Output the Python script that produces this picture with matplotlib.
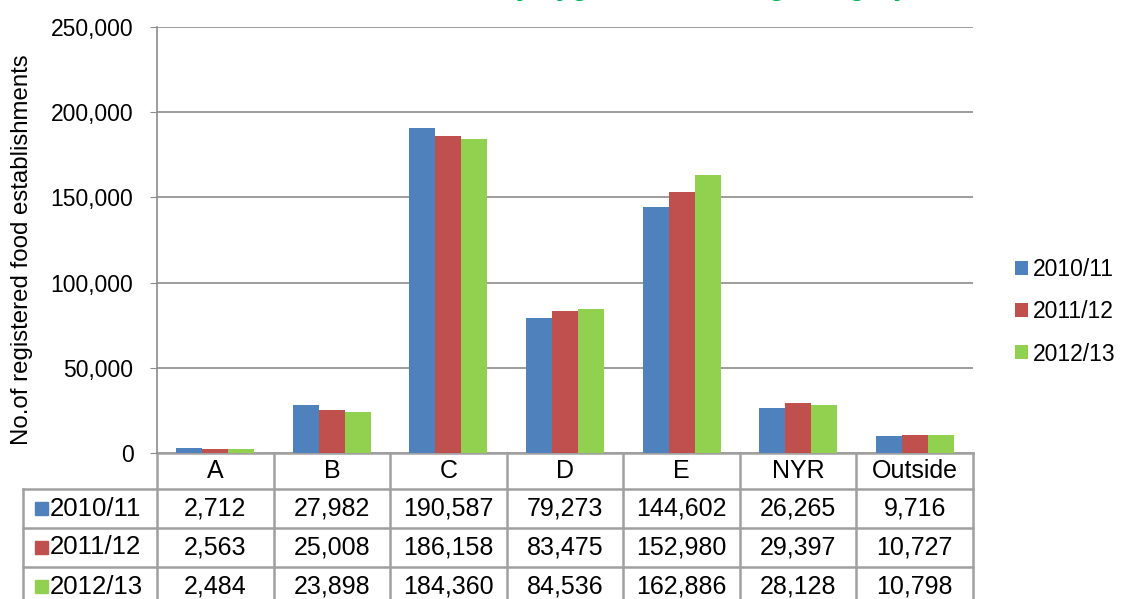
import numpy as np
import matplotlib.pyplot as plt
from matplotlib.patches import Rectangle

plt.rcParams['font.family'] = ['Liberation Sans', 'DejaVu Sans']

categorias = ['A', 'B', 'C', 'D', 'E', 'NYR', 'Outside']
anos = ['2010/11', '2011/12', '2012/13']
v2010 = [2712, 27982, 190587, 79273, 144602, 26265, 9716]
v2011 = [2563, 25008, 186158, 83475, 152980, 29397, 10727]
v2012 = [2484, 23898, 184360, 84536, 162886, 28128, 10798]
yticks = [0, 50000, 100000, 150000, 200000, 250000]
titulo = 'Food establishments by hygiene risk rating category'
ylabel = 'No.of registered food establishments'

series = [v2010, v2011, v2012]
cores = ['#4F81BD', '#C0504D', '#92D050']
cinza = '#A0A0A0'

W, H = 1122, 599
fig = plt.figure(figsize=(W / 100, H / 100), dpi=100)
esq, dir_, topo, base = 157, 973, 27, 453
ax = fig.add_axes([esq / W, 1 - base / H, (dir_ - esq) / W, (base - topo) / H])
pw = dir_ - esq
ph = base - topo

# barras
x = np.arange(len(categorias))
larg = 0.223
for i, (vals, cor, ano) in enumerate(zip(series, cores, anos)):
    ax.bar(x + (i - 1) * larg, vals, larg, color=cor, label=ano, zorder=3)

ax.set_xlim(-0.5, len(categorias) - 0.5)
ax.set_ylim(0, 250000)
ax.set_yticks(yticks)
ax.set_yticklabels([f'{t:,}' for t in yticks])
ax.set_xticks([])
ax.grid(axis='y', color='#8C8C8C', lw=1.2, zorder=0)
for s in ['top', 'right', 'bottom']:
    ax.spines[s].set_visible(False)
ax.spines['left'].set_color('#8C8C8C')
ax.spines['left'].set_linewidth(1.2)
ax.tick_params(axis='y', direction='out', length=5, color='#8C8C8C',
               labelsize=16.5, pad=12)
ax.set_ylabel(ylabel, fontsize=17.3, va='center')


def ay(px):
    return (base - px) / ph


def ax_(px):
    return (px - esq) / pw


ax.yaxis.set_label_coords(ax_(22), ay(250))

# tabela de dados por baixo
linhas_y = [453, 489, 528, 567, 606]
x_rot = ax_(23)
n = len(categorias)
kw = dict(transform=ax.transAxes, clip_on=False, color=cinza, lw=1.8)

# horizontais
ax.plot([0, 1], [ay(453), ay(453)], **kw)
for py in linhas_y[1:]:
    ax.plot([x_rot, 1], [ay(py), ay(py)], **kw)
# verticais
for i in range(n + 1):
    ax.plot([i / n, i / n], [ay(453), ay(606)], **kw)
ax.plot([x_rot, x_rot], [ay(489), ay(606)], **kw)

# cabecalho
for i, c in enumerate(categorias):
    ax.text((i + 0.5) / n, ay((453 + 489) / 2), c, transform=ax.transAxes,
            ha='center', va='center', fontsize=18)

# linhas de valores
for r, (vals, cor, ano) in enumerate(zip(series, cores, anos)):
    yc = ay((linhas_y[r + 1] + linhas_y[r + 2]) / 2)
    for i, v in enumerate(vals):
        ax.text((i + 0.5) / n, yc, f'{v:,}', transform=ax.transAxes,
                ha='center', va='center', fontsize=18)
    ax.add_patch(Rectangle((ax_(35), yc - 6.5 / ph), 13 / pw, 13 / ph,
                           transform=ax.transAxes, clip_on=False, color=cor))
    ax.text(ax_(50), yc, ano, transform=ax.transAxes,
            ha='left', va='center', fontsize=18.5)

# legenda
ax.legend(loc='center left', bbox_to_anchor=(ax_(1015), ay(312)),
          frameon=False, fontsize=16.5, handlelength=0.57, handleheight=0.57,
          handletextpad=0.2, labelspacing=0.83, borderaxespad=0, borderpad=0)

# titulo (cortado no topo)
fig.text(0.5, 1 + 5 / H, titulo, ha='center', va='baseline',
         fontsize=20, fontweight='bold', color='#00B050')

fig.savefig('out.png', dpi=100)
